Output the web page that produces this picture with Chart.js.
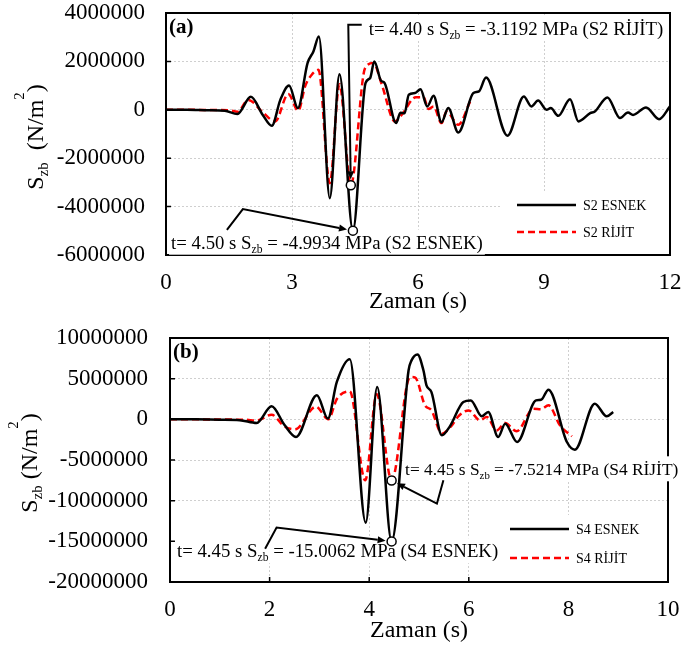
<!DOCTYPE html>
<html>
<head>
<meta charset="utf-8">
<script src="https://cdn.jsdelivr.net/npm/chart.js@4.4.0/dist/chart.umd.min.js"></script>
<style>
  body { margin: 0; background: #fff; }
  canvas { display: block; }
</style>
</head>
<body>
<canvas id="chartA" width="685" height="326"></canvas>
<canvas id="chartB" width="685" height="326"></canvas>
<script>
const SERIF = '"Liberation Serif", "Times New Roman", Times, serif';

// (a) S2 - time (s) and Szb (N/m2)
const tS2Esnek = [0, 0.5, 1.0, 1.4, 1.7, 2.02, 2.3, 2.52, 2.72, 2.93, 3.14, 3.37, 3.51, 3.64, 3.9, 4.13, 4.45, 4.75, 4.86, 4.96, 5.12, 5.2, 5.48, 5.58, 5.68, 5.78, 5.93, 6.06, 6.22, 6.37, 6.56, 6.72, 6.96, 7.32, 7.45, 7.62, 8.13, 8.52, 8.7, 8.86, 9.06, 9.16, 9.34, 9.62, 9.82, 10.1, 10.21, 10.51, 10.81, 11.0, 11.12, 11.43, 11.74, 12.0];
const sS2Esnek = [0, 0, -20000, -40000, -170000, 540000, -200000, -660000, 400000, 1000000, 70000, 1930000, 2410000, 3030000, -3650000, 1470000, -4993400, 1100000, 1310000, 2000000, 1200000, 1120000, -550000, -120000, -140000, 620000, 690000, 850000, 140000, 580000, -520000, 70000, -940000, 690000, 760000, 1330000, -1070000, 550000, 140000, 380000, 0, 70000, -250000, 440000, -480000, -140000, -70000, 510000, -340000, -110000, -210000, 100000, -390000, 140000];
const tS2Rijit = [0, 0.5, 1.0, 1.5, 1.7, 1.96, 2.3, 2.6, 2.91, 3.15, 3.31, 3.47, 3.63, 3.9, 4.13, 4.40, 4.74, 4.94, 5.14, 5.45, 5.61, 5.95, 6.13, 6.25, 6.37, 6.56, 6.68, 6.96, 7.24];
const sS2Rijit = [0, 0, -10000, -20000, -80000, 410000, -100000, -480000, 650000, -40000, 960000, 1450000, 1650000, -3030000, 1060000, -3119200, 1720000, 1930000, 1030000, -480000, -210000, 520000, 520000, 30000, 140000, -550000, -70000, -620000, 340000];
const xTicksA = [0, 3, 6, 9, 12];
const yTicksA = [-6000000, -4000000, -2000000, 0, 2000000, 4000000];

// (b) S4
const tS4Esnek = [0, 0.5, 1.0, 1.4, 1.74, 2.04, 2.3, 2.53, 2.95, 3.17, 3.35, 3.61, 3.93, 4.16, 4.45, 4.79, 4.85, 4.97, 5.09, 5.15, 5.25, 5.46, 5.62, 5.89, 6.04, 6.26, 6.39, 6.59, 6.73, 6.97, 7.35, 7.45, 7.6, 7.97, 8.13, 8.53, 8.77, 8.9];
const sS4Esnek = [0, 0, -50000, -100000, -450000, 1600000, -700000, -2170000, 2950000, 90000, 4600000, 7400000, -12700000, 3970000, -15006200, 6000000, 7250000, 7980000, 6000000, 4180000, 3350000, -1970000, -860000, 2130000, 2330000, 370000, 900000, -2170000, -530000, -2790000, 2330000, 2400000, 3650000, -2790000, -3730000, 1930000, 370000, 900000];
const tS4Rijit = [0, 0.5, 1.0, 1.5, 1.74, 2.04, 2.3, 2.51, 2.93, 3.18, 3.35, 3.61, 3.92, 4.15, 4.45, 4.82, 4.92, 5.12, 5.25, 5.46, 5.66, 5.79, 6.0, 6.22, 6.36, 6.56, 6.73, 6.96, 7.3, 7.45, 7.6, 7.83, 8.07];
const sS4Rijit = [0, 0, -30000, -50000, -150000, 570000, -900000, -1230000, 1550000, 0, 2500000, 3440000, -7500000, 3070000, -7521400, 5200000, 5150000, 1720000, 1100000, -1760000, -740000, 370000, 1100000, -120000, 280000, -1350000, -450000, -1470000, 1310000, 1250000, 1720000, -740000, -2090000];
const xTicksB = [0, 2, 4, 6, 8, 10];
const yTicksB = [-20000000, -15000000, -10000000, -5000000, 0, 5000000, 10000000];

function pairs(ts, vs) {
    return ts.map((t, i) => ({ x: t, y: vs[i] }));
}

// text with sub/superscript pieces: [text, 'sub'|'sup'|undefined]
function richWidth(ctx, parts, size) {
    let w = 0;
    parts.forEach(([txt, kind]) => {
        ctx.font = (kind ? size * 0.62 : size) + 'px ' + SERIF;
        w += ctx.measureText(txt).width;
    });
    return w;
}
function drawRich(ctx, parts, x, y, size, supRise) {
    let cx = x;
    parts.forEach(([txt, kind]) => {
        ctx.font = (kind ? size * 0.62 : size) + 'px ' + SERIF;
        const dy = kind === 'sub' ? size * 0.22 : kind === 'sup' ? -size * (supRise || 0.6) : 0;
        ctx.fillText(txt, cx, y + dy);
        cx += ctx.measureText(txt).width;
    });
}

const decor = {
    id: 'decor',
    afterDatasetsDraw(chart, args, opts) {
        const { ctx, chartArea: a, scales: { x, y } } = chart;
        ctx.save();

        // frame + inside ticks
        ctx.strokeStyle = '#000';
        ctx.lineWidth = 2;
        ctx.strokeRect(a.left, a.top, a.right - a.left, a.bottom - a.top);
        ctx.lineWidth = 1.5;
        ctx.beginPath();
        y.ticks.forEach(t => {
            const py = y.getPixelForValue(t.value);
            ctx.moveTo(a.left, py); ctx.lineTo(a.left + 5, py);
        });
        x.ticks.forEach(t => {
            const px = x.getPixelForValue(t.value);
            ctx.moveTo(px, a.bottom); ctx.lineTo(px, a.bottom - 5);
        });
        ctx.stroke();

        // panel letter
        ctx.fillStyle = '#000';
        ctx.font = 'bold 21px ' + SERIF;
        ctx.textBaseline = 'alphabetic';
        ctx.fillText(opts.letter, a.left + 3, a.top + 20);

        // legend
        const lg = opts.legend;
        const lx = a.right + lg.left;
        const boxTop = a.bottom + lg.rows[0] - 14;
        ctx.fillStyle = '#fff';
        ctx.fillRect(lx - 16, boxTop, a.right - lx + 15, a.bottom - boxTop - 1);
        chart.data.datasets.forEach((ds, i) => {
            const ly = a.bottom + lg.rows[i];
            ctx.strokeStyle = ds.borderColor;
            ctx.lineWidth = ds.borderWidth;
            ctx.setLineDash(ds.borderDash || []);
            ctx.beginPath(); ctx.moveTo(lx, ly); ctx.lineTo(lx + 59, ly); ctx.stroke();
            ctx.setLineDash([]);
            ctx.fillStyle = '#000';
            ctx.font = '14px ' + SERIF;
            ctx.textBaseline = 'middle';
            ctx.fillText(ds.label, lx + 66, ly + 1);
        });

        // annotations of the minimum points
        ctx.textBaseline = 'alphabetic';
        opts.notes.forEach(n => {
            const pt = chart.data.datasets[n.dataset].data.reduce((m, p) => (p.y < m.y ? p : m));
            const px = x.getPixelForValue(pt.x), py = y.getPixelForValue(pt.y);
            const tx = x.getPixelForValue(n.at[0]), ty = y.getPixelForValue(n.at[1]);
            const w = richWidth(ctx, n.parts, n.size);
            ctx.fillStyle = '#fff';
            ctx.fillRect(tx - 2, ty - 12, w + 4, 25);
            ctx.fillStyle = '#000';
            drawRich(ctx, n.parts, tx, ty + 7, n.size);

            const path = n.leader.map(([lx2, ly2]) => [x.getPixelForValue(lx2), y.getPixelForValue(ly2)]);
            const [qx, qy] = path[path.length - 1];
            const ang = Math.atan2(py - qy, px - qx);
            const tipX = px - Math.cos(ang) * 6, tipY = py - Math.sin(ang) * 6;
            const baseX = tipX - Math.cos(ang) * 8, baseY = tipY - Math.sin(ang) * 8;
            ctx.strokeStyle = '#000';
            ctx.lineWidth = 2;
            ctx.beginPath();
            ctx.moveTo(path[0][0], path[0][1]);
            path.slice(1).forEach(p => ctx.lineTo(p[0], p[1]));
            ctx.lineTo(baseX, baseY);
            ctx.stroke();
            ctx.beginPath();
            ctx.moveTo(tipX, tipY);
            ctx.lineTo(baseX - Math.sin(ang) * 3.5, baseY + Math.cos(ang) * 3.5);
            ctx.lineTo(baseX + Math.sin(ang) * 3.5, baseY - Math.cos(ang) * 3.5);
            ctx.closePath();
            ctx.fill();

            ctx.beginPath();
            ctx.arc(px, py, 4.5, 0, Math.PI * 2);
            ctx.fillStyle = '#fff';
            ctx.fill();
            ctx.lineWidth = 1.5;
            ctx.stroke();
        });

        // y axis title, rotated
        const yt = opts.yTitle;
        const tw = richWidth(ctx, yt.parts, 24);
        ctx.translate(yt.x, (a.top + a.bottom) / 2 + 3);
        ctx.rotate(-Math.PI / 2);
        ctx.fillStyle = '#000';
        drawRich(ctx, yt.parts, -tw / 2, 8, 24, 0.8);
        ctx.restore();
    }
};

function noPad(s) {
    s.paddingTop = 0; s.paddingBottom = 0; s.paddingLeft = 0; s.paddingRight = 0;
}

function makeChart(id, cfg) {
    return new Chart(document.getElementById(id), {
        type: 'line',
        data: {
            datasets: [{
                label: cfg.labels[0],
                data: cfg.esnek,
                borderColor: '#000000',
                borderWidth: 2.5,
                pointRadius: 0,
                cubicInterpolationMode: 'monotone'
            }, {
                label: cfg.labels[1],
                data: cfg.rijit,
                borderColor: '#ff0000',
                borderWidth: 2.5,
                borderDash: [7, 4],
                pointRadius: 0,
                cubicInterpolationMode: 'monotone'
            }]
        },
        options: {
            responsive: false,
            animation: false,
            events: [],
            layout: { padding: cfg.padding },
            scales: {
                x: {
                    type: 'linear',
                    min: cfg.xTicks[0],
                    max: cfg.xTicks[cfg.xTicks.length - 1],
                    afterBuildTicks: s => { s.ticks = cfg.xTicks.map(v => ({ value: v })); },
                    afterFit: s => { s.height = cfg.xHeight; noPad(s); },
                    grid: { color: '#cfcfcf', lineWidth: 1, drawTicks: false },
                    border: { display: false, dash: [2, 2] },
                    ticks: { padding: 14, color: '#000', font: { family: SERIF, size: 23 }, maxRotation: 0 },
                    title: { display: true, text: 'Zaman (s)', color: '#000', font: { family: SERIF, size: 24 }, padding: { top: 0, bottom: cfg.titlePad } }
                },
                y: {
                    min: cfg.yTicks[0],
                    max: cfg.yTicks[cfg.yTicks.length - 1],
                    afterBuildTicks: s => { s.ticks = cfg.yTicks.map(v => ({ value: v })); },
                    afterFit: s => { s.width = cfg.yWidth; noPad(s); },
                    grid: { color: '#cfcfcf', lineWidth: 1, drawTicks: false },
                    border: { display: false, dash: [2, 2] },
                    ticks: { padding: cfg.yPad, color: '#000', font: { family: SERIF, size: 23 }, callback: v => String(v) }
                }
            },
            plugins: {
                legend: { display: false },
                tooltip: { enabled: false },
                decor: cfg.decor
            }
        },
        plugins: [decor]
    });
}

makeChart('chartA', {
    labels: ['S2 ESNEK', 'S2 RİJİT'],
    esnek: pairs(tS2Esnek, sS2Esnek),
    rijit: pairs(tS2Rijit, sS2Rijit),
    xTicks: xTicksA,
    yTicks: yTicksA,
    padding: { top: 13, right: 15, left: 0, bottom: 0 },
    xHeight: 71,
    yWidth: 166,
    yPad: 21,
    titlePad: 10,
    decor: {
        letter: '(a)',
        legend: { left: -153, rows: [-50, -23] },
        yTitle: { x: 35, parts: [['S'], ['zb', 'sub'], ['  (N/m'], ['2', 'sup'], [')']] },
        notes: [
            { dataset: 1, at: [4.83, 3390000], leader: [[4.66, 3510000], [4.34, 3510000]], size: 18.8,
              parts: [['t= 4.40 s S'], ['zb', 'sub'], [' = -3.1192 MPa (S2 RİJİT)']] },
            { dataset: 0, at: [0.12, -5450000], leader: [[1.45, -4960000], [1.83, -4100000]], size: 18.8,
              parts: [['t= 4.50 s S'], ['zb', 'sub'], [' = -4.9934 MPa (S2 ESNEK)']] }
        ]
    }
});

makeChart('chartB', {
    labels: ['S4 ESNEK', 'S4 RİJİT'],
    esnek: pairs(tS4Esnek, sS4Esnek),
    rijit: pairs(tS4Rijit, sS4Rijit),
    xTicks: xTicksB,
    yTicks: yTicksB,
    padding: { top: 12, right: 17, left: 0, bottom: 0 },
    xHeight: 70,
    yWidth: 170,
    yPad: 22,
    titlePad: 7,
    decor: {
        letter: '(b)',
        legend: { left: -158, rows: [-53, -24] },
        yTitle: { x: 29, parts: [['S'], ['zb', 'sub'], [' (N/m'], ['2', 'sup'], [')']] },
        notes: [
            { dataset: 1, at: [4.72, -6020000], leader: [[5.49, -7490000], [5.36, -10360000]], size: 17.4,
              parts: [['t= 4.45 s S'], ['zb', 'sub'], [' = -7.5214 MPa (S4 RİJİT)']] },
            { dataset: 0, at: [0.14, -16090000], leader: [[1.91, -15900000], [2.14, -13300000]], size: 18.8,
              parts: [['t= 4.45 s S'], ['zb', 'sub'], [' = -15.0062 MPa (S4 ESNEK)']] }
        ]
    }
});
</script>
</body>
</html>
